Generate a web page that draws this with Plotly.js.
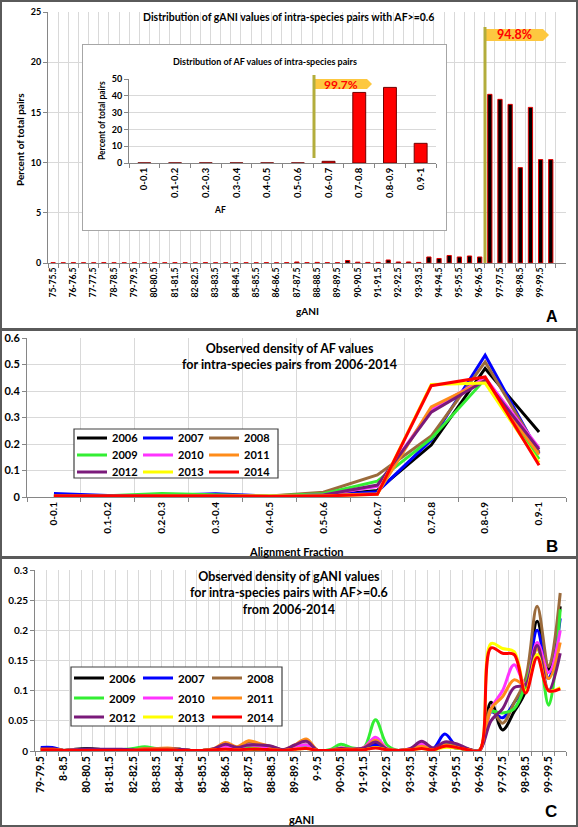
<!DOCTYPE html>
<html>
<head>
<meta charset="utf-8">
<script src="https://cdn.plot.ly/plotly-3.0.1.min.js"></script>
<style>
  html, body { margin: 0; padding: 0; background: #ffffff; }
  #chart { width: 578px; height: 827px; }
</style>
</head>
<body>
<div id="chart"></div>
<script>
// ---------------- DATA ----------------
// Panel A: gANI bins (AF >= 0.6), percent of total pairs
const ganiBinsA = ["75-75.5","75.5-76","76-76.5","76.5-77","77-77.5","77.5-78","78-78.5","78.5-79","79-79.5","79.5-80",
  "80-80.5","80.5-81","81-81.5","81.5-82","82-82.5","82.5-83","83-83.5","83.5-84","84-84.5","84.5-85",
  "85-85.5","85.5-86","86-86.5","86.5-87","87-87.5","87.5-88","88-88.5","88.5-89","89-89.5","89.5-90",
  "90-90.5","90.5-91","91-91.5","91.5-92","92-92.5","92.5-93","93-93.5","93.5-94","94-94.5","94.5-95",
  "95-95.5","95.5-96","96-96.5","96.5-97","97-97.5","97.5-98","98-98.5","98.5-99","99-99.5","99.5-100"];
const pctGaniA = [0.03,0.02,0.03,0.02,0.02,0.03,0.02,0.02,0.03,0.02,
  0.03,0.02,0.03,0.02,0.02,0.03,0.02,0.02,0.03,0.02,
  0.02,0.03,0.02,0.03,0.10,0.03,0.06,0.03,0.03,0.25,
  0.08,0.06,0.06,0.30,0.10,0.10,0.06,0.60,0.45,0.75,
  0.60,0.70,0.60,16.8,16.3,15.8,9.5,15.5,10.3,10.3];

// Inset: AF bins, percent of total pairs
const afBins = ["0-0.1","0.1-0.2","0.2-0.3","0.3-0.4","0.4-0.5","0.5-0.6","0.6-0.7","0.7-0.8","0.8-0.9","0.9-1"];
const pctAF = [0.05,0.05,0.05,0.05,0.05,0.05,1.0,42.0,45.0,11.7];

// Threshold labels
const gaNIShare = "94.8%";
const afShare = "99.7%";

// Panel B: density of AF values by year
const years = ["2006","2007","2008","2009","2010","2011","2012","2013","2014"];
const yearColors = ["#000000","#0000ff","#9b6b3c","#33ee33","#ff33ff","#ff8c1a","#7a1a7a","#ffff00","#ff0000"];
const afD2006 = [0.005,0.003,0.005,0.005,0.002,0.005,0.025,0.196,0.485,0.245];
const afD2007 = [0.013,0.006,0.006,0.012,0.003,0.005,0.020,0.215,0.535,0.165];
const afD2008 = [0.005,0.004,0.008,0.006,0.004,0.018,0.083,0.230,0.510,0.170];
const afD2009 = [0.005,0.005,0.013,0.008,0.004,0.012,0.060,0.220,0.445,0.143];
const afD2010 = [0.004,0.003,0.006,0.005,0.003,0.008,0.040,0.330,0.450,0.185];
const afD2011 = [0.004,0.003,0.005,0.005,0.003,0.006,0.012,0.340,0.440,0.160];
const afD2012 = [0.005,0.004,0.006,0.006,0.003,0.008,0.045,0.320,0.440,0.180];
const afD2013 = [0.003,0.002,0.004,0.004,0.002,0.004,0.010,0.425,0.430,0.130];
const afD2014 = [0.004,0.003,0.004,0.004,0.002,0.004,0.010,0.420,0.453,0.120];

// Panel C: density of gANI values by year
const ganiBinsC = ["79-79.5","79.5-8","8-8.5","8.5-80","80-80.5","80.5-81","81-81.5","81.5-82","82-82.5","82.5-83",
  "83-83.5","83.5-84","84-84.5","84.5-85","85-85.5","85.5-86","86-86.5","86.5-87","87-87.5","87.5-88",
  "88-88.5","88.5-89","89-89.5","89.5-9","9-9.5","9.5-90","90-90.5","90.5-91","91-91.5","91.5-92",
  "92-92.5","92.5-93","93-93.5","93.5-94","94-94.5","94.5-95","95-95.5","95.5-96","96-96.5","96.5-97",
  "97-97.5","97.5-98","98-98.5","98.5-99","99-99.5","99.5-100"];
const gD2006 = [0.002,0.002,0.001,0.003,0.004,0.003,0.001,0.002,0.001,0.002,
  0.002,0.001,0.003,0.001,0.001,0.002,0.004,0.002,0.003,0.002,
  0.003,0.001,0.004,0.006,0.001,0.001,0.003,0.002,0.003,0.012,
  0.002,0.001,0.002,0.006,0.002,0.008,0.005,0.002,0.001,0.081,
  0.035,0.065,0.100,0.215,0.135,0.240];
const gD2007 = [0.006,0.006,0.001,0.002,0.003,0.002,0.001,0.002,0.001,0.003,
  0.002,0.002,0.002,0.001,0.001,0.002,0.005,0.003,0.006,0.004,
  0.004,0.001,0.005,0.008,0.001,0.001,0.004,0.002,0.003,0.010,
  0.002,0.001,0.003,0.006,0.004,0.028,0.008,0.003,0.001,0.065,
  0.055,0.080,0.110,0.200,0.120,0.220];
const gD2008 = [0.002,0.002,0.001,0.002,0.003,0.002,0.002,0.002,0.002,0.003,
  0.003,0.003,0.003,0.001,0.001,0.003,0.009,0.006,0.015,0.010,
  0.007,0.002,0.007,0.010,0.001,0.001,0.005,0.003,0.004,0.018,
  0.003,0.001,0.003,0.008,0.004,0.012,0.008,0.003,0.001,0.070,
  0.046,0.080,0.120,0.240,0.140,0.262];
const gD2009 = [0.002,0.002,0.001,0.002,0.002,0.002,0.002,0.002,0.004,0.007,
  0.004,0.003,0.003,0.001,0.001,0.003,0.006,0.004,0.008,0.006,
  0.005,0.002,0.006,0.008,0.001,0.002,0.011,0.005,0.006,0.052,
  0.010,0.001,0.003,0.006,0.003,0.010,0.006,0.003,0.001,0.065,
  0.063,0.070,0.110,0.170,0.076,0.235];
const gD2010 = [0.002,0.002,0.001,0.002,0.002,0.002,0.001,0.002,0.002,0.003,
  0.003,0.003,0.002,0.001,0.001,0.003,0.008,0.005,0.010,0.008,
  0.006,0.002,0.007,0.010,0.001,0.001,0.005,0.003,0.006,0.023,
  0.004,0.001,0.004,0.012,0.004,0.008,0.006,0.003,0.001,0.070,
  0.100,0.143,0.110,0.180,0.130,0.200];
const gD2011 = [0.002,0.002,0.001,0.002,0.002,0.002,0.001,0.002,0.002,0.004,
  0.004,0.005,0.003,0.001,0.001,0.004,0.014,0.007,0.017,0.012,
  0.007,0.002,0.010,0.020,0.001,0.001,0.004,0.003,0.005,0.018,
  0.003,0.001,0.003,0.008,0.003,0.010,0.006,0.003,0.001,0.070,
  0.090,0.118,0.110,0.170,0.120,0.180];
const gD2012 = [0.004,0.004,0.001,0.002,0.003,0.003,0.003,0.003,0.002,0.003,
  0.003,0.003,0.003,0.001,0.001,0.004,0.011,0.006,0.010,0.010,
  0.008,0.002,0.010,0.016,0.001,0.001,0.004,0.003,0.005,0.015,
  0.003,0.001,0.004,0.016,0.005,0.015,0.012,0.004,0.001,0.050,
  0.070,0.105,0.110,0.175,0.100,0.162];
const gD2013 = [0.002,0.002,0.001,0.001,0.001,0.001,0.001,0.001,0.001,0.002,
  0.002,0.002,0.001,0.001,0.001,0.002,0.003,0.002,0.003,0.003,
  0.002,0.001,0.003,0.004,0.001,0.001,0.002,0.002,0.002,0.006,
  0.002,0.001,0.002,0.004,0.002,0.006,0.005,0.002,0.001,0.178,
  0.170,0.165,0.100,0.160,0.100,0.105];
const gD2014 = [0.002,0.002,0.001,0.001,0.001,0.001,0.001,0.001,0.001,0.002,
  0.002,0.002,0.001,0.001,0.001,0.002,0.003,0.002,0.003,0.003,
  0.002,0.001,0.003,0.004,0.001,0.001,0.002,0.002,0.002,0.005,
  0.002,0.001,0.002,0.004,0.002,0.008,0.006,0.002,0.001,0.171,
  0.162,0.160,0.096,0.155,0.100,0.103];

const afDensity = [afD2006,afD2007,afD2008,afD2009,afD2010,afD2011,afD2012,afD2013,afD2014];
const ganiDensity = [gD2006,gD2007,gD2008,gD2009,gD2010,gD2011,gD2012,gD2013,gD2014];

// ---------------- LAYOUT HELPERS ----------------
const W = 578, H = 827;
const F = 'Lato, "Open Sans", sans-serif';
const dx = (a, b) => [a / W, b / W];
const dy = (top, bottom) => [1 - bottom / H, 1 - top / H];
const PX = v => v / W;
const PY = v => 1 - v / H;
const GRID = '#d9d9d9', AXL = '#868686';
const bold = (size) => ({family: F, size: size, weight: 'bold', color: '#000'});
const everyOther = arr => arr.map((c, i) => (i % 2 === 0 ? c : ''));

// ---------------- TRACES ----------------
const traces = [];
traces.push({type: 'bar', x: ganiBinsA, y: pctGaniA, xaxis: 'x', yaxis: 'y', width: 0.42,
  marker: {color: '#000000', line: {color: '#e00000', width: 1}}, showlegend: false, hoverinfo: 'skip'});
// inset frame subplot (empty)
traces.push({type: 'scatter', x: [], y: [], xaxis: 'x2', yaxis: 'y2', showlegend: false, hoverinfo: 'skip'});
traces.push({type: 'bar', x: afBins, y: pctAF, xaxis: 'x3', yaxis: 'y3', width: 0.42,
  marker: {color: '#ff0000', line: {color: '#700000', width: 1}}, showlegend: false, hoverinfo: 'skip'});

const legB = ['legend', 'legend2', 'legend3'];
const legC = ['legend4', 'legend5', 'legend6'];
years.forEach((yr, i) => {
  traces.push({type: 'scatter', mode: 'lines', name: yr, x: afBins, y: afDensity[i],
    xaxis: 'x4', yaxis: 'y4', line: {color: yearColors[i], width: 3}, legend: legB[Math.floor(i / 3)], hoverinfo: 'skip'});
});
years.forEach((yr, i) => {
  traces.push({type: 'scatter', mode: 'lines', name: yr, x: ganiBinsC, y: ganiDensity[i],
    xaxis: 'x5', yaxis: 'y5', line: {color: yearColors[i], width: 3, shape: 'spline', smoothing: 1},
    legend: legC[Math.floor(i / 3)], hoverinfo: 'skip'});
});

// ---------------- SHAPES ----------------
const shapes = [];
function rectPx(x0, y0, x1, y1, opts) {
  shapes.push(Object.assign({type: 'rect', xref: 'paper', yref: 'paper',
    x0: PX(x0), x1: PX(x1), y0: PY(y1), y1: PY(y0), layer: 'above'}, opts));
}
function linePx(x0, y0, x1, y1, color, width) {
  shapes.push({type: 'line', xref: 'paper', yref: 'paper', x0: PX(x0), x1: PX(x1), y0: PY(y0), y1: PY(y1),
    line: {color: color, width: width}, layer: 'above'});
}
function arrowPx(xl, xr, xtip, yt, yb, fill) {
  const ym = (yt + yb) / 2;
  const p = `M ${PX(xl)} ${PY(yt)} L ${PX(xr)} ${PY(yt)} L ${PX(xtip)} ${PY(ym)} L ${PX(xr)} ${PY(yb)} L ${PX(xl)} ${PY(yb)} Z`;
  shapes.push({type: 'path', xref: 'paper', yref: 'paper', path: p, fillcolor: fill, line: {width: 0}, layer: 'above'});
}
// panel borders
rectPx(1, 1, 577, 329, {line: {color: '#5a5a5a', width: 2}});
rectPx(1, 330, 577, 557, {line: {color: '#5a5a5a', width: 2}});
rectPx(1, 558, 577, 826, {line: {color: '#5a5a5a', width: 2}});
// legend boxes
rectPx(74, 429, 278, 478, {line: {color: '#404040', width: 1.2}, fillcolor: '#ffffff'});
rectPx(71, 667, 282, 726, {line: {color: '#404040', width: 1.2}, fillcolor: '#ffffff'});
// threshold markers
arrowPx(486, 543, 549, 29, 41, '#fdc840');
linePx(485, 27, 485, 263, '#b3ad3c', 3);
arrowPx(315, 367, 372, 79, 89, '#fdc840');
linePx(314, 75, 314, 158, '#b3ad3c', 3);

// ---------------- ANNOTATIONS ----------------
const annotations = [];
function textPx(text, x, y, size, extra) {
  annotations.push(Object.assign({text: text, x: PX(x), y: PY(y), xref: 'paper', yref: 'paper',
    xanchor: 'center', yanchor: 'middle', showarrow: false, font: bold(size)}, extra || {}));
}
const letterFont = s => ({family: 'Liberation Sans, Arial, sans-serif', size: s, weight: 'bold', color: '#000'});
textPx('Distribution of gANI values of intra-species pairs with AF>=0.6', 288, 17, 10.5);
textPx('Percent of total pairs', 20, 140, 10, {textangle: -90});
textPx('gANI', 307, 311, 10);
textPx('A', 552, 316, 16, {font: letterFont(16)});
textPx('Distribution of AF values of intra-species pairs', 265, 61, 9);
textPx('Percent of total pairs', 102, 121, 8.5, {textangle: -90});
textPx('AF', 220, 210, 8.5);
textPx(gaNIShare, 514, 35, 12.5, {font: {family: F, size: 12.5, weight: 'bold', color: '#ff0000'}});
textPx(afShare, 341, 84, 12, {font: {family: F, size: 12, weight: 'bold', color: '#ff0000'}});

textPx('Observed density of AF values<br>for intra-species pairs from 2006-2014', 289, 356, 12.5);
textPx('Alignment Fraction', 296, 551, 11);
textPx('B', 552, 546, 17, {font: letterFont(17)});

textPx('Observed density of gANI values<br>for intra-species pairs with AF>=0.6<br>from 2006-2014', 289, 593, 12.5);
textPx('gANI', 301, 819, 11);
textPx('C', 551, 811, 17, {font: letterFont(17)});

// ---------------- LEGENDS ----------------
function legendRow(xpx, ypx, size, ew) {
  return {orientation: 'h', x: PX(xpx), y: PY(ypx), xanchor: 'left', yanchor: 'middle',
    entrywidth: ew, entrywidthmode: 'pixels', bgcolor: 'rgba(255,255,255,0)', borderwidth: 0,
    font: bold(size), traceorder: 'normal'};
}

// ---------------- AXES ----------------
const catX = (domain, anchor, cats, labels, range, size, grid) => ({
  domain: domain, anchor: anchor, type: 'category', range: range,
  tickmode: 'array', tickvals: cats, ticktext: labels, tickson: 'boundaries',
  ticks: 'outside', ticklen: 4, tickcolor: AXL, tickangle: -90, tickfont: bold(size),
  showgrid: grid, gridcolor: GRID, gridwidth: 1, showline: true, linecolor: AXL, linewidth: 1,
  zeroline: false, fixedrange: true
});
const numY = (domain, anchor, range, dtick, size) => ({
  domain: domain, anchor: anchor, range: range, dtick: dtick, tick0: 0,
  ticks: 'outside', ticklen: 4, tickcolor: AXL, tickfont: bold(size),
  showgrid: true, gridcolor: GRID, gridwidth: 1, showline: true, linecolor: AXL, linewidth: 1,
  zeroline: false, fixedrange: true
});

const layout = {
  width: W, height: H,
  margin: {l: 0, r: 0, t: 0, b: 0, pad: 0},
  paper_bgcolor: '#ffffff', plot_bgcolor: '#ffffff',
  font: {family: F, color: '#000'},
  showlegend: true,
  xaxis: catX(dx(48, 566), 'y', ganiBinsA, everyOther(ganiBinsA), [-0.5, 50.5], 8.6, true),
  yaxis: numY(dy(12, 263), 'x', [0, 25], 5, 9),
  xaxis2: {domain: dx(83, 446), anchor: 'y2', range: [0, 1], showgrid: false, zeroline: false,
    showticklabels: false, ticks: '', showline: true, mirror: true, linecolor: '#a6a6a6', linewidth: 1, fixedrange: true},
  yaxis2: {domain: dy(45, 230), anchor: 'x2', range: [0, 1], showgrid: false, zeroline: false,
    showticklabels: false, ticks: '', showline: true, mirror: true, linecolor: '#a6a6a6', linewidth: 1, fixedrange: true},
  xaxis3: catX(dx(129, 436), 'y3', afBins, afBins, [-0.5, 9.5], 9.5, false),
  yaxis3: numY(dy(79, 163), 'x3', [0, 50], 10, 9),
  xaxis4: catX(dx(27, 566), 'y4', afBins, afBins, [-0.5, 9.5], 10, true),
  yaxis4: numY(dy(338, 497), 'x4', [0, 0.6001], 0.1, 11),
  xaxis5: catX(dx(35, 566), 'y5', ganiBinsC, everyOther(ganiBinsC), [-0.5, 45.5], 10.5, true),
  yaxis5: numY(dy(570, 751), 'x5', [0, 0.3001], 0.05, 10),
  legend: legendRow(72, 438, 11, 21),
  legend2: legendRow(72, 455, 11, 21),
  legend3: legendRow(72, 472, 11, 21),
  legend4: legendRow(69, 678, 11.5, 24),
  legend5: legendRow(69, 698, 11.5, 24),
  legend6: legendRow(69, 717, 11.5, 24),
  shapes: shapes,
  annotations: annotations
};

Plotly.newPlot('chart', traces, layout, {displayModeBar: false, staticPlot: true});
</script>
</body>
</html>
